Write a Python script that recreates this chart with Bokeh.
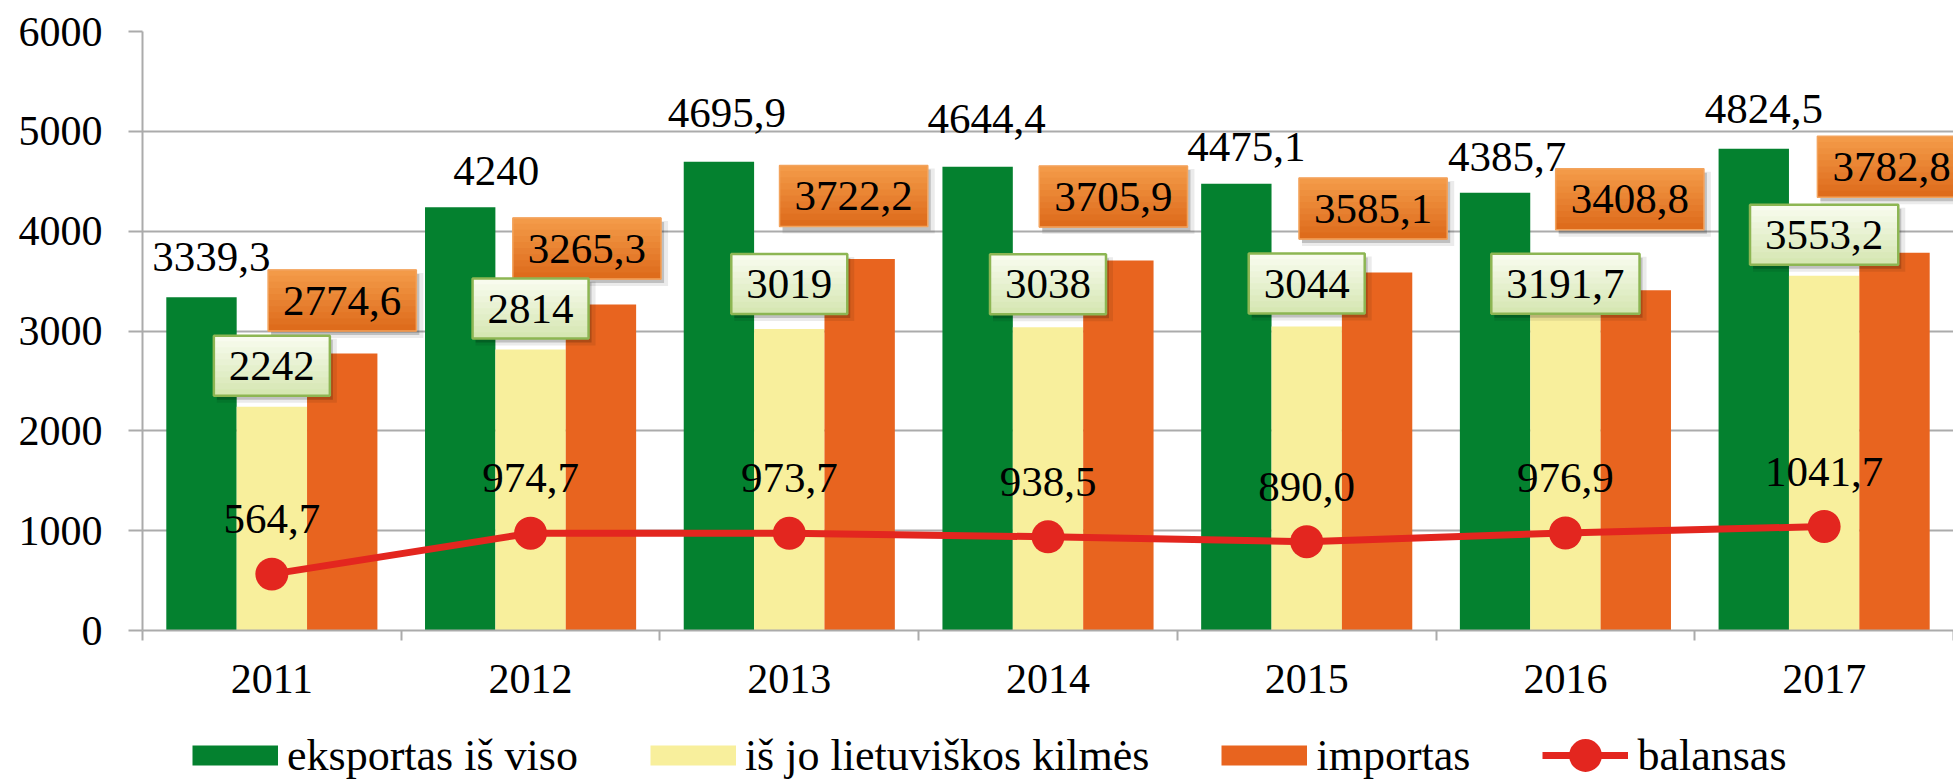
from bokeh.plotting import figure
from bokeh.layouts import column
from bokeh.models import Range1d, FixedTicker, Legend, LegendItem
from bokeh.embed import file_html
from bokeh.resources import INLINE
from bokeh.core.properties import value

# ---------------- data ----------------
years = ["2011", "2012", "2013", "2014", "2015", "2016", "2017"]
eksportas = [3339.3, 4240, 4695.9, 4644.4, 4475.1, 4385.7, 4824.5]
kilmes = [2242, 2814, 3019, 3038, 3044, 3191.7, 3553.2]
importas = [2774.6, 3265.3, 3722.2, 3705.9, 3585.1, 3408.8, 3782.8]
balansas = [564.7, 974.7, 973.7, 938.5, 890.0, 976.9, 1041.7]
y_ticks = [0, 1000, 2000, 3000, 4000, 5000, 6000]
series_names = ["eksportas iš viso", "iš jo lietuviškos kilmės", "importas", "balansas"]

# ---------------- label placement tweaks (screen px, label centre above value) ----------------
eks_lbl_dx = [10, 36, 8, 9, 10, 12, 10]
eks_lbl_dy = [40, 36, 49, 48, 37, 36, 40]
kil_box_dy = [41, 41, 45, 43, 43, 28, 41]
imp_box_dx = [0, -14, -6, -5, -4, -6, -3]
imp_box_dy = [53, 56, 63, 64, 64, 91, 86]
bal_lbl_dy = 55

# ---------------- styles ----------------
GREEN = "#04812F"
YELLOW = "#F8EF9C"
ORANGE = "#E8641F"
RED = "#E3261F"
GRID = "#ABABAB"
FONT = "Liberation Serif"

W, H = 1953, 779
LEFT, TOP, RIGHT = 142, 31, 0
FH = 599                 # frame height
AXIS_B = 84              # space below frame for the x axis
MAIN_H = TOP + FH + AXIS_B
LEG_H = H - MAIN_H
FW = W - LEFT - RIGHT
YMAX = 6000
N = len(years)
UPX = N / FW       # data-x per px
UPY = YMAX / FH    # data-y per px
BW = 0.272
NAN = float("nan")


def fmt(v):
    return str(v) if isinstance(v, int) else f"{v:.1f}".replace(".", ",")


def text_w(s, fs=43):
    return sum(0.25 * fs if c == "," else 0.5 * fs for c in s)


def lerp(c1, c2, t):
    a = [int(c1[i:i + 2], 16) for i in (1, 3, 5)]
    b = [int(c2[i:i + 2], 16) for i in (1, 3, 5)]
    return "#%02x%02x%02x" % tuple(round(a[k] + (b[k] - a[k]) * t) for k in range(3))


p = figure(width=W, height=MAIN_H, output_backend="svg", toolbar_location=None,
           x_range=Range1d(-0.5, N - 0.5), y_range=Range1d(0, YMAX),
           min_border_left=LEFT, min_border_right=RIGHT,
           min_border_top=TOP, min_border_bottom=AXIS_B,
           outline_line_color=None, background_fill_color="white")

xs = list(range(N))

p.vbar(x=[x - BW for x in xs], top=eksportas, width=BW, fill_color=GREEN, line_color=None)
p.vbar(x=xs, top=kilmes, width=BW, fill_color=YELLOW, line_color=None)
p.vbar(x=[x + BW for x in xs], top=importas, width=BW, fill_color=ORANGE, line_color=None)

p.line(xs, balansas, line_width=7, line_color=RED)
p.scatter(xs, balansas, size=33, fill_color=RED, line_color=None)


def boxes(xc, yc, texts, hpx, top_col, bot_col, border_col, border_w):
    wpx = [text_w(t) + 30 for t in texts]
    # soft drop shadow
    p.rect(x=[x + 5 * UPX for x in xc], y=[y - 5 * UPY for y in yc], width=[w + 4 for w in wpx],
           height=hpx + 4, width_units="screen", height_units="screen",
           fill_color="black", fill_alpha=0.08, line_color=None)
    p.rect(x=[x + 3 * UPX for x in xc], y=[y - 4 * UPY for y in yc], width=wpx,
           height=hpx, width_units="screen", height_units="screen",
           fill_color="black", fill_alpha=0.18, line_color=None)
    nb = 10
    bh = hpx / nb
    for k in range(nb):
        off = hpx / 2 - (k + 0.5) * bh
        p.rect(x=xc, y=[y + off * UPY for y in yc], width=wpx, height=bh + 0.8,
               width_units="screen", height_units="screen",
               fill_color=lerp(top_col, bot_col, k / (nb - 1)), line_color=None)
    p.rect(x=xc, y=yc, width=wpx, height=hpx, width_units="screen", height_units="screen",
           fill_color=None, line_color=border_col, line_width=border_w)
    p.text(x=xc, y=yc, text=texts, text_font=value(FONT), text_font_size="43px",
           text_align="center", text_baseline="middle", text_color="black")


# importas boxes
imp_x = [x + BW + dx * UPX for x, dx in zip(xs, imp_box_dx)]
imp_y = [v + dy * UPY for v, dy in zip(importas, imp_box_dy)]
boxes(imp_x, imp_y, [fmt(v) for v in importas], 61, "#F39A48", "#DE6C1C", "#F3A35C", 1.5)

# kilmes boxes
kil_y = [v + dy * UPY for v, dy in zip(kilmes, kil_box_dy)]
boxes(xs, kil_y, [fmt(v) for v in kilmes], 60, "#F8FBEE", "#D6E7B3", "#8DB653", 2.5)

# eksportas labels
p.text(x=[x - BW + dx * UPX for x, dx in zip(xs, eks_lbl_dx)],
       y=[v + dy * UPY for v, dy in zip(eksportas, eks_lbl_dy)],
       text=[fmt(v) for v in eksportas], text_font=value(FONT), text_font_size="43px",
       text_align="center", text_baseline="middle", text_color="black")

# balansas labels
p.text(x=xs, y=[v + bal_lbl_dy * UPY for v in balansas],
       text=[fmt(v) for v in balansas], text_font=value(FONT), text_font_size="43px",
       text_align="center", text_baseline="middle", text_color="black")

# axes
p.xaxis.ticker = FixedTicker(ticks=xs, minor_ticks=[x - 0.5 for x in range(N + 1)])
p.xaxis.major_label_overrides = {i: years[i] for i in xs}
p.xaxis.major_tick_out = 0
p.xaxis.major_tick_in = 0
p.xaxis.minor_tick_out = 10
p.xaxis.minor_tick_in = 0
p.xaxis.minor_tick_line_color = GRID
p.xaxis.minor_tick_line_width = 2
p.xaxis.axis_line_color = GRID
p.xaxis.axis_line_width = 2
p.xaxis.major_label_standoff = 24
p.xaxis.major_label_text_font = FONT
p.xaxis.major_label_text_font_size = "42px"
p.xaxis.major_label_text_font_style = "normal"
p.xaxis.major_label_text_color = "black"

p.yaxis.ticker = FixedTicker(ticks=y_ticks)
p.yaxis.major_tick_out = 14
p.yaxis.major_tick_in = 0
p.yaxis.major_tick_line_color = GRID
p.yaxis.major_tick_line_width = 2
p.yaxis.minor_tick_line_color = None
p.yaxis.axis_line_color = GRID
p.yaxis.axis_line_width = 2
p.yaxis.major_label_standoff = 26
p.yaxis.major_label_text_font = FONT
p.yaxis.major_label_text_font_size = "42px"
p.yaxis.major_label_text_color = "black"

p.xgrid.grid_line_color = None
p.ygrid.ticker = FixedTicker(ticks=y_ticks)
p.ygrid.grid_line_color = GRID
p.ygrid.grid_line_width = 2

# ---------------- legend strip ----------------
lf = figure(width=W, height=LEG_H, output_backend="svg", toolbar_location=None,
            x_range=Range1d(0, 1), y_range=Range1d(0, 1), x_axis_type=None, y_axis_type=None,
            min_border=0, outline_line_color=None, background_fill_color="white")
lf.grid.visible = False

# legend-only proxy renderers (a single NaN point: nothing is drawn in the strip)
sw_eks = lf.line(x=[NAN], y=[NAN], line_color=GREEN, line_width=20)
sw_kil = lf.line(x=[NAN], y=[NAN], line_color=YELLOW, line_width=20)
sw_imp = lf.line(x=[NAN], y=[NAN], line_color=ORANGE, line_width=20)
sw_bal_l = lf.line(x=[NAN], y=[NAN], line_color=RED, line_width=7)
sw_bal_p = lf.scatter(x=[NAN], y=[NAN], size=33, fill_color=RED, line_color=None)

GLYPH_H = 82
leg = Legend(items=[LegendItem(label=series_names[0], renderers=[sw_eks]),
                    LegendItem(label=series_names[1], renderers=[sw_kil]),
                    LegendItem(label=series_names[2], renderers=[sw_imp]),
                    LegendItem(label=series_names[3], renderers=[sw_bal_l, sw_bal_p])],
             orientation="horizontal", location=(50, LEG_H - GLYPH_H),
             glyph_width=86, glyph_height=GLYPH_H, label_standoff=9, spacing=72,
             padding=0, margin=0, label_height=50,
             border_line_color=None, background_fill_alpha=0,
             label_text_font=FONT, label_text_font_size="44px", label_text_color="black")
lf.add_layout(leg)

layout = column(p, lf, spacing=0)
open("out.html", "w").write(file_html(layout, INLINE))
